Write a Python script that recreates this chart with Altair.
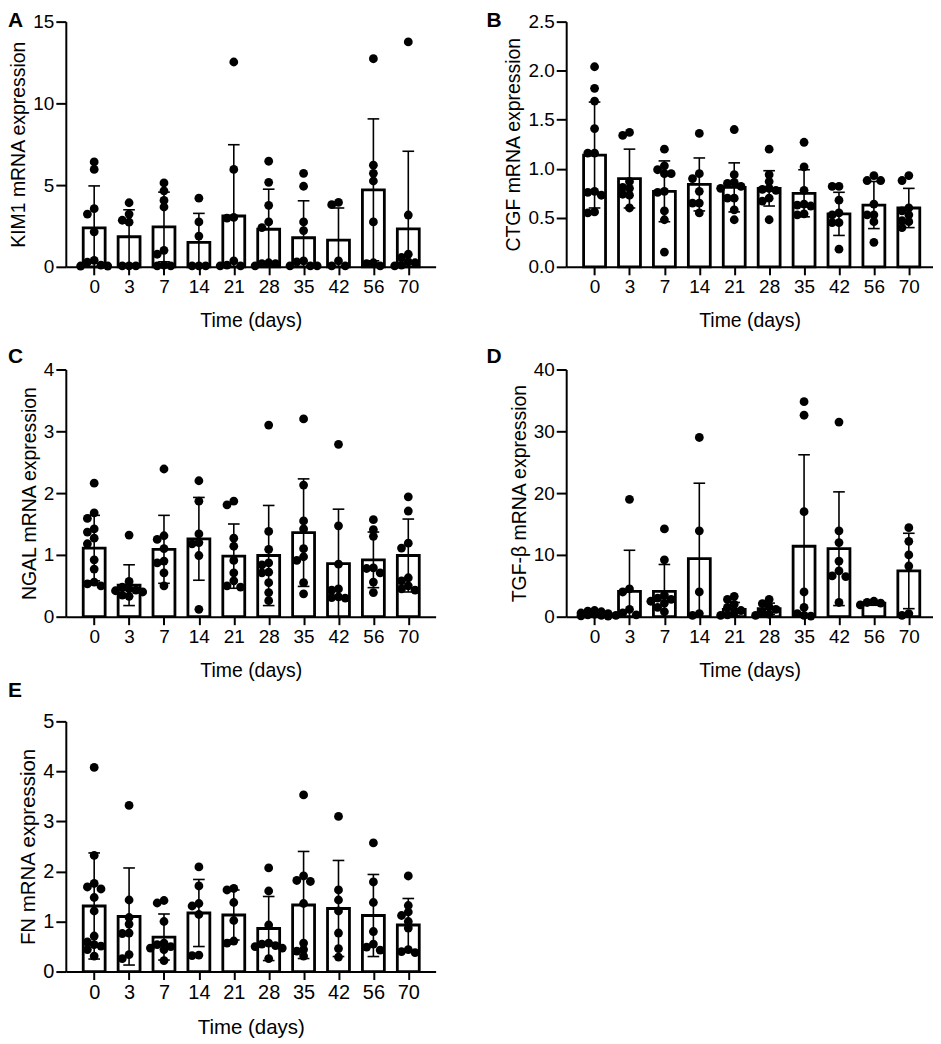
import altair as alt
import pandas as pd

days = ["0", "3", "7", "14", "21", "28", "35", "42", "56", "70"]

# Panel A: KIM1
kim1_mean = [2.38, 1.84, 2.44, 1.49, 3.11, 2.30, 1.78, 1.64, 4.71, 2.32]
kim1_sd = [2.57, 1.65, 2.13, 1.78, 4.36, 2.45, 2.26, 1.96, 4.34, 4.75]
kim1_points = [
    [6.42, 5.96, 3.56, 3.23, 2.14, 0.40, 0.28, 0.10, 0.05, 0.05],
    [3.92, 3.23, 2.85, 2.73, 0.06, 0.06, 0.06],
    [5.13, 4.65, 4.06, 3.66, 1.01, 0.77, 0.10, 0.06, 0.06],
    [4.20, 2.75, 1.88, 0.06, 0.06, 0.06],
    [12.53, 5.96, 3.02, 2.98, 0.36, 0.10, 0.06, 0.06],
    [6.46, 5.17, 3.76, 2.75, 2.40, 0.25, 0.20, 0.20, 0.06],
    [5.72, 4.93, 2.75, 2.22, 0.36, 0.30, 0.06, 0.06, 0.06],
    [3.94, 3.80, 0.36, 0.06, 0.06],
    [12.73, 6.22, 5.72, 5.25, 2.75, 0.25, 0.20, 0.06],
    [13.76, 3.17, 0.77, 0.57, 0.30, 0.25, 0.10, 0.06],
]

# Panel B: CTGF
ctgf_mean = [1.14, 0.90, 0.77, 0.84, 0.81, 0.80, 0.75, 0.54, 0.63, 0.60]
ctgf_sd = [0.54, 0.30, 0.31, 0.27, 0.25, 0.18, 0.24, 0.22, 0.24, 0.20]
ctgf_points = [
    [2.04, 1.82, 1.69, 1.41, 1.16, 1.16, 0.77, 0.76, 0.73, 0.56, 0.55],
    [1.37, 1.34, 0.87, 0.81, 0.80, 0.74, 0.73, 0.60],
    [1.20, 1.03, 0.99, 0.95, 0.95, 0.77, 0.76, 0.57, 0.48, 0.15],
    [1.36, 0.95, 0.90, 0.77, 0.65, 0.65, 0.55],
    [1.40, 0.94, 0.86, 0.85, 0.82, 0.80, 0.70, 0.70, 0.58, 0.48],
    [1.20, 0.94, 0.87, 0.80, 0.79, 0.78, 0.70, 0.67, 0.48],
    [1.27, 1.02, 0.78, 0.64, 0.63, 0.62, 0.54, 0.53],
    [0.82, 0.82, 0.68, 0.55, 0.53, 0.45, 0.45, 0.18],
    [0.93, 0.88, 0.88, 0.64, 0.53, 0.53, 0.46, 0.25],
    [0.93, 0.88, 0.60, 0.57, 0.53, 0.47, 0.46, 0.40],
]

# Panel C: NGAL
ngal_mean = [1.11, 0.51, 1.09, 1.26, 0.98, 0.99, 1.36, 0.86, 0.92, 0.99]
ngal_sd = [0.53, 0.33, 0.55, 0.67, 0.52, 0.81, 0.87, 0.88, 0.45, 0.59]
ngal_points = [
    [2.16, 1.68, 1.59, 1.42, 1.37, 1.27, 1.18, 0.92, 0.77, 0.56, 0.53, 0.50],
    [1.32, 0.57, 0.48, 0.45, 0.43, 0.42, 0.40, 0.35, 0.33],
    [2.39, 1.31, 1.25, 1.10, 0.90, 0.87, 0.71, 0.50],
    [2.20, 1.87, 1.34, 1.20, 1.18, 0.99, 0.12],
    [1.87, 1.81, 1.27, 1.14, 0.91, 0.71, 0.58, 0.50, 0.48],
    [3.10, 1.38, 1.09, 0.87, 0.84, 0.72, 0.71, 0.55, 0.39, 0.26],
    [3.20, 2.13, 1.55, 1.42, 1.10, 0.97, 0.91, 0.55, 0.37],
    [2.79, 1.47, 0.85, 0.45, 0.43, 0.32, 0.31, 0.30],
    [1.57, 1.41, 1.30, 0.79, 0.78, 0.71, 0.56, 0.39],
    [1.94, 1.71, 1.19, 1.11, 0.63, 0.58, 0.50, 0.45, 0.43],
]

# Panel D: TGF-beta
tgfb_mean = [0.55, 4.1, 4.1, 9.4, 1.2, 1.3, 11.4, 11.0, 2.2, 7.4]
tgfb_sd = [0.4, 6.65, 4.35, 12.2, 1.1, 0.9, 14.8, 9.2, 0.35, 6.1]
tgfb_points = [
    [1.0, 0.9, 0.8, 0.6, 0.5, 0.4, 0.3, 0.2, 0.15, 0.1],
    [19.0, 4.5, 4.0, 1.2, 0.6, 0.3, 0.2],
    [14.2, 9.2, 3.5, 3.0, 2.8, 2.5, 2.2, 1.5, 0.8],
    [29.0, 13.9, 4.0, 0.5, 0.2],
    [3.3, 2.8, 2.0, 1.5, 1.0, 0.6, 0.3, 0.2],
    [2.8, 2.1, 1.6, 1.2, 0.7, 0.4, 0.2],
    [34.8, 32.6, 17.0, 4.0, 1.5, 0.5, 0.2, 0.1],
    [31.5, 13.9, 12.0, 9.0, 7.4, 6.6, 6.5, 2.3],
    [2.5, 2.3, 2.2, 1.9],
    [14.4, 12.2, 10.0, 8.2, 0.5, 0.2],
]

# Panel E: FN
fn_mean = [1.31, 1.10, 0.69, 1.17, 1.13, 0.86, 1.33, 1.26, 1.12, 0.93]
fn_sd = [1.06, 0.97, 0.46, 0.67, 0.50, 0.64, 1.07, 0.96, 0.82, 0.53]
fn_points = [
    [4.08, 2.32, 1.76, 1.69, 1.65, 1.48, 1.21, 0.71, 0.59, 0.54, 0.51, 0.44, 0.31],
    [3.32, 1.43, 1.08, 0.95, 0.77, 0.76, 0.34, 0.26],
    [1.42, 1.37, 1.00, 0.57, 0.54, 0.50, 0.47, 0.44, 0.22],
    [2.09, 1.71, 1.36, 1.31, 1.14, 0.33, 0.32],
    [1.66, 1.63, 1.38, 1.02, 0.61, 0.57],
    [2.07, 1.61, 0.93, 0.57, 0.55, 0.52, 0.50, 0.47, 0.26],
    [3.53, 1.91, 1.82, 1.80, 1.36, 0.57, 0.44, 0.41, 0.31],
    [3.10, 1.63, 1.43, 1.21, 0.77, 0.46, 0.29],
    [2.57, 1.79, 1.38, 0.80, 0.55, 0.49, 0.43],
    [1.91, 1.32, 1.19, 1.12, 1.00, 0.87, 0.44, 0.40, 0.38],
]

FONT = "Liberation Sans"


def swarm(vals, ppu, step=7.0, thr=6.5):
    """Simple beeswarm: horizontal pixel offsets so dots do not pile up."""
    order = sorted(range(len(vals)), key=lambda i: -vals[i])
    placed = []
    offs = [0.0] * len(vals)
    cands = [0, -1, 1, -2, 2]
    for i in order:
        yv = vals[i] * ppu
        chosen = None
        best_x, best_d = 0.0, -1.0
        for c in cands:
            xo = c * step
            dmin = min([((xo - px) ** 2 + (yv - py) ** 2) ** 0.5 for px, py in placed], default=1e9)
            if dmin >= thr:
                chosen = xo
                break
            if dmin > best_d:
                best_d, best_x = dmin, xo
        if chosen is None:
            chosen = best_x
        placed.append((chosen, yv))
        offs[i] = chosen
    return offs


def panel(letter, ylabel, ymax, yticks, yfmt, means, sds, points,
          width, height, xdom, letter_dx, letter_offset, fs=19):
    pux = width / (xdom[1] - xdom[0])
    ppu = height / ymax
    cap = 6.0 / pux
    summ = pd.DataFrame({"idx": list(range(len(days))), "mean": means, "sd": sds})
    summ["hi"] = summ["mean"] + summ["sd"]
    summ["lo"] = (summ["mean"] - summ["sd"]).clip(lower=0)
    summ["c1"] = summ["idx"] - cap
    summ["c2"] = summ["idx"] + cap
    rows = []
    for i, vals in enumerate(points):
        offs = swarm(vals, ppu)
        for v, o in zip(vals, offs):
            rows.append({"x": i + o / pux, "v": v})
    pts = pd.DataFrame(rows)

    label_expr = "[" + ",".join("'%s'" % d for d in days) + "][datum.value]"
    xscale = alt.Scale(domain=xdom, nice=False, zero=False)
    yscale = alt.Scale(domain=[0, ymax], nice=False, zero=True)
    xaxis = alt.Axis(values=list(range(len(days))), labelExpr=label_expr,
                     title="Time (days)", tickSize=8, labelPadding=3,
                     titlePadding=15, labelFlush=False,
                     labelFontSize=fs, titleFontSize=fs + 0.5)
    yaxis = alt.Axis(values=yticks, format=yfmt, title=ylabel, tickSize=10,
                     labelPadding=2, titlePadding=4,
                     labelFontSize=fs, titleFontSize=fs + 0.5)

    def X(f):
        return alt.X(f, type="quantitative", scale=xscale, axis=xaxis)

    def Y(f):
        return alt.Y(f, type="quantitative", scale=yscale, axis=yaxis)

    bars = alt.Chart(summ).mark_bar(size=22, fill="white", stroke="black",
                                    strokeWidth=2.8, orient="vertical").encode(
        x=X("idx"), y=Y("mean"))
    err = alt.Chart(summ).mark_rule(color="black", strokeWidth=1.6).encode(
        x=X("idx"), y=Y("lo"), y2="hi")
    cap_hi = alt.Chart(summ).mark_rule(color="black", strokeWidth=1.6).encode(
        x=X("c1"), x2="c2", y=Y("hi"))
    cap_lo = alt.Chart(summ[summ["lo"] > 0]).mark_rule(color="black", strokeWidth=1.6).encode(
        x=X("c1"), x2="c2", y=Y("lo"))
    dots = alt.Chart(pts).mark_circle(size=78, color="black", opacity=1).encode(
        x=X("x"), y=Y("v"))
    return alt.layer(bars, err, cap_hi, cap_lo, dots).properties(
        width=width, height=height,
        title=alt.TitleParams(letter, anchor="start", frame="group", dx=letter_dx,
                              offset=letter_offset, fontSize=21, fontWeight="bold",
                              font=FONT, color="black"))


XD1 = [-0.67, 9.64]
XD2 = [-0.67, 9.55]

pA = panel("A", "KIM1 mRNA expression", 15, [0, 5, 10, 15], "d",
           kim1_mean, kim1_sd, kim1_points, 371, 246, XD1, -58, -18)
pB = panel("B", "CTGF mRNA expression", 2.5, [0, 0.5, 1.0, 1.5, 2.0, 2.5], ".1f",
           ctgf_mean, ctgf_sd, ctgf_points, 368, 246, XD2, -80, -18)
pC = panel("C", "NGAL mRNA expression", 4, [0, 1, 2, 3, 4], "d",
           ngal_mean, ngal_sd, ngal_points, 371, 248, XD1, -58, -6)
pD = panel("D", "TGF-β mRNA expression", 40, [0, 10, 20, 30, 40], "d",
           tgfb_mean, tgfb_sd, tgfb_points, 368, 248, XD2, -80, -6)
pE = panel("E", "FN mRNA expression", 5, [0, 1, 2, 3, 4, 5], "d",
           fn_mean, fn_sd, fn_points, 371, 251, XD1, -58, 10, fs=20)

row1 = alt.hconcat(pA, pB, spacing=51)
row2 = alt.hconcat(pC, pD, spacing=51)
top = alt.vconcat(row1, row2, spacing=15)
chart = alt.vconcat(top, pE, spacing=0).properties(
    padding={"left": 0, "top": 0, "right": 0, "bottom": 0}
).configure_view(stroke=None).configure_axis(
    grid=False, domainColor="black", domainWidth=2, tickColor="black", tickWidth=2,
    labelColor="black", titleColor="black", labelFont=FONT, titleFont=FONT,
    titleFontWeight="normal"
)

chart.save("out.html", embed_options={"renderer": "svg", "actions": False})
